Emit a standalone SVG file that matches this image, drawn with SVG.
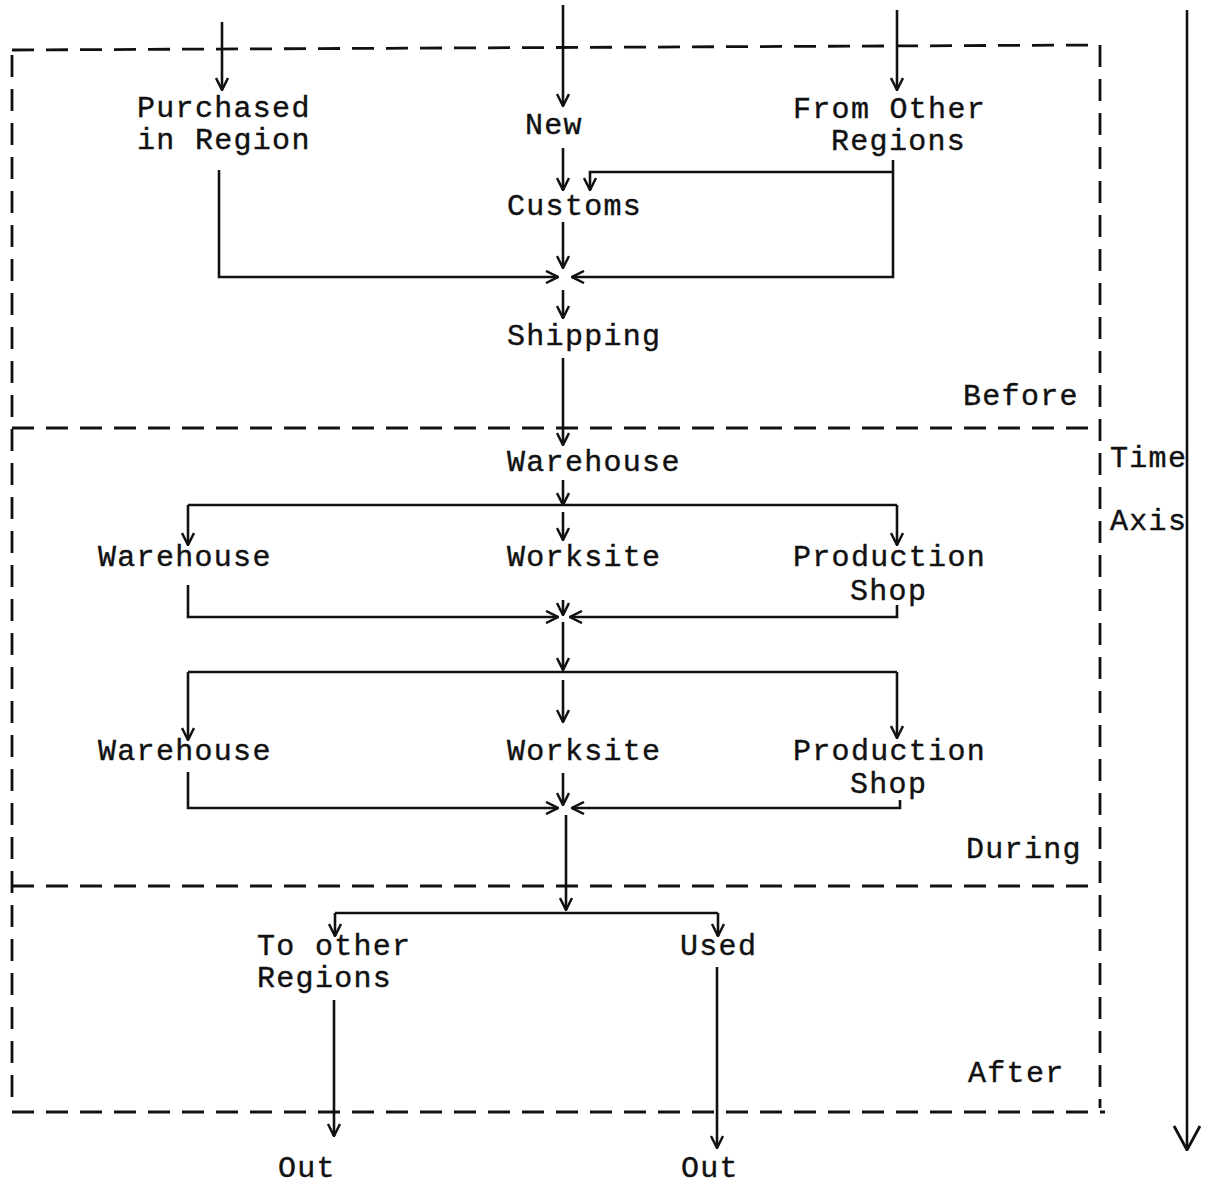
<svg xmlns="http://www.w3.org/2000/svg" width="1219" height="1185" viewBox="0 0 1219 1185">
<style>
text{font-family:"Liberation Mono","DejaVu Sans Mono",monospace;font-size:30px;letter-spacing:1.3px;fill:#111;stroke:#111;stroke-width:0.4}
.c{fill:none;stroke:#111;stroke-width:2.6}
.d{fill:none;stroke:#111;stroke-width:2.8;stroke-dasharray:22 12}
</style>
<defs>
<marker id="a" viewBox="0 0 14 14" refX="13" refY="7" markerWidth="14" markerHeight="14" markerUnits="userSpaceOnUse" orient="auto">
<path d="M1,1 L13,7 L1,13" fill="none" stroke="#111" stroke-width="2.5"/>
</marker>
<marker id="b" viewBox="0 0 26 30" refX="25" refY="15" markerWidth="26" markerHeight="30" markerUnits="userSpaceOnUse" orient="auto">
<path d="M1,2 L25,15 L1,28" fill="none" stroke="#111" stroke-width="2.8"/>
</marker>
</defs>
<g id="frame">
<path class="d" d="M12,50 L1100,45"/>
<path class="d" d="M12,428 L1098,428"/>
<path class="d" d="M12,886 L1100,886"/>
<path class="d" d="M12,1112 L1105,1112"/>
<path class="d" d="M12,55 L12,1108"/>
<path class="d" d="M1100,45 L1100,1108"/>
</g>
<g id="connectors">
<path class="c" d="M222,22 L222,90" marker-end="url(#a)"/>
<path class="c" d="M563,5 L563,106" marker-end="url(#a)"/>
<path class="c" d="M897,10 L897,90" marker-end="url(#a)"/>
<path class="c" d="M563,148 L563,190" marker-end="url(#a)"/>
<path class="c" d="M893,172 L590,172 L590,190" marker-end="url(#a)"/>
<path class="c" d="M563,222 L563,268" marker-end="url(#a)"/>
<path class="c" d="M219,170 L219,277 L558,277" marker-end="url(#a)"/>
<path class="c" d="M893,160 L893,277 L572,277" marker-end="url(#a)"/>
<path class="c" d="M563,290 L563,318" marker-end="url(#a)"/>
<path class="c" d="M563,358 L563,445" marker-end="url(#a)"/>
<path class="c" d="M563,480 L563,505" marker-end="url(#a)"/>
<path class="c" d="M188,505 L897,505"/>
<path class="c" d="M188,505 L188,545" marker-end="url(#a)"/>
<path class="c" d="M897,505 L897,545" marker-end="url(#a)"/>
<path class="c" d="M563,512 L563,540" marker-end="url(#a)"/>
<path class="c" d="M188,585 L188,617 L558,617" marker-end="url(#a)"/>
<path class="c" d="M897,605 L897,617 L570,617" marker-end="url(#a)"/>
<path class="c" d="M563,600 L563,615" marker-end="url(#a)"/>
<path class="c" d="M563,622 L563,670" marker-end="url(#a)"/>
<path class="c" d="M188,672 L897,672"/>
<path class="c" d="M188,672 L188,740" marker-end="url(#a)"/>
<path class="c" d="M897,672 L897,738" marker-end="url(#a)"/>
<path class="c" d="M563,680 L563,722" marker-end="url(#a)"/>
<path class="c" d="M188,772 L188,808 L558,808" marker-end="url(#a)"/>
<path class="c" d="M900,800 L900,808 L572,808" marker-end="url(#a)"/>
<path class="c" d="M563,773 L563,805" marker-end="url(#a)"/>
<path class="c" d="M566,815 L566,910" marker-end="url(#a)"/>
<path class="c" d="M335,913 L718,913"/>
<path class="c" d="M335,913 L335,936" marker-end="url(#a)"/>
<path class="c" d="M718,913 L718,936" marker-end="url(#a)"/>
<path class="c" d="M334,1000 L334,1136" marker-end="url(#a)"/>
<path class="c" d="M717,967 L717,1148" marker-end="url(#a)"/>
<path class="c" d="M1187,10 L1187,1150" marker-end="url(#b)"/>
</g>
<g id="purchased"><text x="137" y="117">Purchased</text><text x="137" y="149">in Region</text></g>
<g id="new"><text x="525" y="134">New</text></g>
<g id="from-other"><text x="793" y="118">From Other</text><text x="831" y="150">Regions</text></g>
<g id="customs"><text x="507" y="215">Customs</text></g>
<g id="shipping"><text x="507" y="345">Shipping</text></g>
<g id="warehouse0"><text x="507" y="471">Warehouse</text></g>
<g id="warehouse1"><text x="98" y="566">Warehouse</text></g>
<g id="worksite1"><text x="507" y="566">Worksite</text></g>
<g id="production1"><text x="793" y="566">Production</text><text x="850" y="600">Shop</text></g>
<g id="warehouse2"><text x="98" y="760">Warehouse</text></g>
<g id="worksite2"><text x="507" y="760">Worksite</text></g>
<g id="production2"><text x="793" y="760">Production</text><text x="850" y="793">Shop</text></g>
<g id="to-other"><text x="257" y="955">To other</text><text x="257" y="987">Regions</text></g>
<g id="used"><text x="680" y="955">Used</text></g>
<g id="out1"><text x="278" y="1177">Out</text></g>
<g id="out2"><text x="681" y="1177">Out</text></g>
<g id="before"><text x="963" y="405">Before</text></g>
<g id="during"><text x="966" y="858">During</text></g>
<g id="after"><text x="968" y="1082">After</text></g>
<g id="time-axis"><text x="1110" y="467">Time</text><text x="1110" y="530">Axis</text></g>
</svg>
